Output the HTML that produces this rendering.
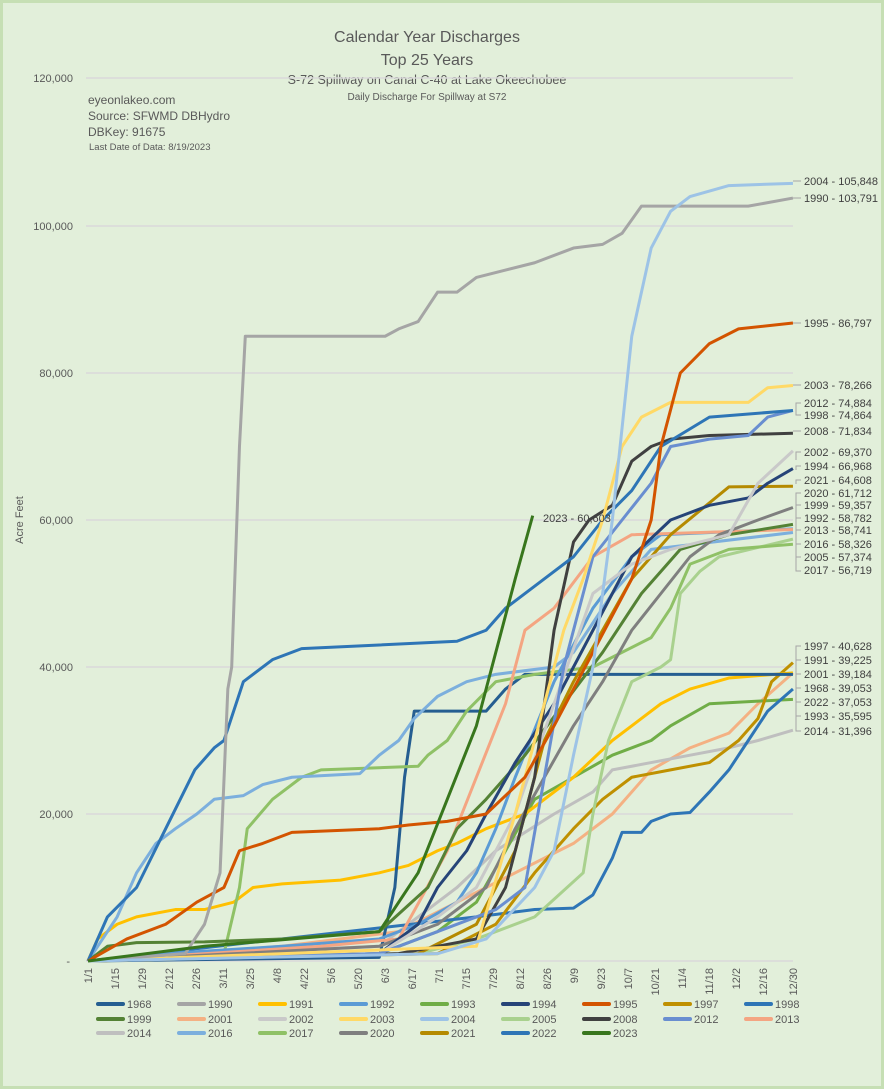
<!DOCTYPE html>
<html><head><meta charset="utf-8"><style>
html,body{margin:0;padding:0;background:#e2efda;}
svg{display:block;font-family:"Liberation Sans",sans-serif;}
</style></head><body>
<svg width="884" height="1089" viewBox="0 0 884 1089" xmlns="http://www.w3.org/2000/svg">
<rect x="0" y="0" width="884" height="1089" fill="#c6dfb4"/>
<rect x="3" y="3" width="878" height="1083" fill="#e2efda"/>
<g font-family="Liberation Sans, sans-serif" fill="#595959" text-anchor="middle">
<text x="427" y="42" font-size="16">Calendar Year Discharges</text>
<text x="427" y="65" font-size="16">Top 25 Years</text>
<text x="427" y="84" font-size="12.5">S-72 Spillway on Canal C-40 at Lake Okeechobee</text>
<text x="427" y="100" font-size="10">Daily Discharge For Spillway at S72</text>
</g>
<g fill="#595959" font-size="12">
<text x="88" y="104">eyeonlakeo.com</text>
<text x="88" y="120">Source: SFWMD DBHydro</text>
<text x="88" y="136">DBKey: 91675</text>
<text x="89" y="150" font-size="9.5">Last Date of Data: 8/19/2023</text>
</g>
<g stroke="#d9d9d9" stroke-width="1.5">
<line x1="86" y1="78" x2="793" y2="78"/><line x1="86" y1="226" x2="793" y2="226"/>
<line x1="86" y1="373" x2="793" y2="373"/><line x1="86" y1="520" x2="793" y2="520"/>
<line x1="86" y1="667" x2="793" y2="667"/><line x1="86" y1="814" x2="793" y2="814"/>
<line x1="86" y1="961" x2="793" y2="961"/>
</g>
<g fill="#595959" font-size="11" text-anchor="end">
<text x="73" y="82">120,000</text><text x="73" y="230">100,000</text>
<text x="73" y="377">80,000</text><text x="73" y="524">60,000</text>
<text x="73" y="671">40,000</text><text x="73" y="818">20,000</text>
<text x="70" y="965">-</text>
</g>
<text transform="translate(23 520) rotate(-90)" text-anchor="middle" font-size="11" fill="#595959">Acre Feet</text>
<g fill="#595959" font-size="11" text-anchor="end">
<text transform="translate(92 968) rotate(-90)">1/1</text>
<text transform="translate(119 968) rotate(-90)">1/15</text>
<text transform="translate(146 968) rotate(-90)">1/29</text>
<text transform="translate(173 968) rotate(-90)">2/12</text>
<text transform="translate(200 968) rotate(-90)">2/26</text>
<text transform="translate(227 968) rotate(-90)">3/11</text>
<text transform="translate(254 968) rotate(-90)">3/25</text>
<text transform="translate(281 968) rotate(-90)">4/8</text>
<text transform="translate(308 968) rotate(-90)">4/22</text>
<text transform="translate(335 968) rotate(-90)">5/6</text>
<text transform="translate(362 968) rotate(-90)">5/20</text>
<text transform="translate(389 968) rotate(-90)">6/3</text>
<text transform="translate(416 968) rotate(-90)">6/17</text>
<text transform="translate(443 968) rotate(-90)">7/1</text>
<text transform="translate(470 968) rotate(-90)">7/15</text>
<text transform="translate(497 968) rotate(-90)">7/29</text>
<text transform="translate(524 968) rotate(-90)">8/12</text>
<text transform="translate(551 968) rotate(-90)">8/26</text>
<text transform="translate(578 968) rotate(-90)">9/9</text>
<text transform="translate(605 968) rotate(-90)">9/23</text>
<text transform="translate(632 968) rotate(-90)">10/7</text>
<text transform="translate(659 968) rotate(-90)">10/21</text>
<text transform="translate(686 968) rotate(-90)">11/4</text>
<text transform="translate(713 968) rotate(-90)">11/18</text>
<text transform="translate(740 968) rotate(-90)">12/2</text>
<text transform="translate(767 968) rotate(-90)">12/16</text>
<text transform="translate(797 968) rotate(-90)">12/30</text>
</g>
<g transform="translate(88 961) scale(1.942 -7.35)" fill="none" stroke-width="3" stroke-linejoin="round">
<polyline vector-effect="non-scaling-stroke" stroke="#f4b183" points="0,0 100,2 160,4 190,8 220,12 250,16 270,20 290,26 310,29 330,31 345,35 363,39.2"/>
<polyline vector-effect="non-scaling-stroke" stroke="#bfbfbf" points="0,0 60,1 150,2 190,10 210,15 240,20 260,23 270,26 290,27 310,28 330,29 345,30 363,31.4"/>
<polyline vector-effect="non-scaling-stroke" stroke="#70ad47" points="0,0 150,1 180,4 200,8 215,15 230,22 250,25 270,28 290,30 300,32 320,35 363,35.6"/>
<polyline vector-effect="non-scaling-stroke" stroke="#2e75b6" points="0,0 200,6 230,7 250,7.2 260,9 270,14 275,17.5 285,17.5 290,19 300,20 310,20.2 320,23 330,26 340,30 350,34 363,37"/>
<polyline vector-effect="non-scaling-stroke" stroke="#bf9000" points="0,0 180,1 210,5 230,12 250,18 265,22 280,25 300,26 320,27 335,30 345,33 352,38 363,40.6"/>
<polyline vector-effect="non-scaling-stroke" stroke="#ffc000" points="0,0 5,3 15,5 25,6 45,7 60,7 75,8 85,10 100,10.5 130,11 150,12 165,13 180,15 190,16 205,18 225,20 250,25 270,30 285,33 295,35 310,37 330,38.5 363,39.2"/>
<polyline vector-effect="non-scaling-stroke" stroke="#255e91" points="0,0 150,0.5 158,10 163,25 168,34 205,34 215,37 225,39 363,39"/>
<polyline vector-effect="non-scaling-stroke" stroke="#a9d18e" points="0,0 170,1 200,3 230,6 255,12 260,20 268,30 280,38 295,40 300,41 305,50 315,53 325,55 363,57.4"/>
<polyline vector-effect="non-scaling-stroke" stroke="#8fc166" points="0,0 70,1 78,10 82,18 95,22 110,25 120,26 170,26.5 175,28 185,30 195,34 210,38 230,39 260,40 290,44 300,48 310,54 330,56 363,56.7"/>
<polyline vector-effect="non-scaling-stroke" stroke="#7cafdd" points="0,0 5,2 15,6 25,12 35,16 45,18 56,20 65,22 80,22.5 90,24 105,25 140,25.5 150,28 160,30 168,33 180,36 195,38 210,39 240,40 250,42 270,50 290,56 363,58.3"/>
<polyline vector-effect="non-scaling-stroke" stroke="#5b9bd5" points="0,0 40,1 100,2 150,3 170,5 190,8 200,12 210,18 220,25 240,38 260,48 280,55 295,58 363,58.8"/>
<polyline vector-effect="non-scaling-stroke" stroke="#f4a582" points="0,0 120,2 160,3 185,15 200,25 215,35 225,45 240,48 260,55 280,58 363,58.7"/>
<polyline vector-effect="non-scaling-stroke" stroke="#548235" points="0,0 10,2 25,2.5 60,2.6 100,3 150,4 175,10 190,18 205,22 225,28 245,35 265,42 285,50 305,56 330,58 363,59.4"/>
<polyline vector-effect="non-scaling-stroke" stroke="#7f7f7f" points="0,0 150,2 180,5 205,10 220,18 235,25 250,32 265,38 280,45 295,50 310,55 325,58 345,60 363,61.7"/>
<polyline vector-effect="non-scaling-stroke" stroke="#b58a00" points="0,0 170,1 200,5 220,15 235,30 250,38 265,45 280,52 300,58 330,64.5 363,64.6"/>
<polyline vector-effect="non-scaling-stroke" stroke="#264478" points="0,0 150,1 170,5 180,10 195,15 205,20 220,27 240,35 260,45 280,55 300,60 320,62 340,63 350,65 363,67"/>
<polyline vector-effect="non-scaling-stroke" stroke="#c9c9c9" points="0,0 150,1 180,6 200,10 220,20 240,35 260,50 280,54 300,56 330,58 345,65 363,69.4"/>
<polyline vector-effect="non-scaling-stroke" stroke="#404040" points="0,0 160,1 200,3 215,10 230,25 240,45 250,57 258,60 270,62 280,68 290,70 300,71 320,71.5 363,71.8"/>
<polyline vector-effect="non-scaling-stroke" stroke="#698ed0" points="0,0 150,1 210,7 225,10 235,25 245,40 260,55 275,60 290,65 300,70 320,71 340,71.5 350,74 363,74.9"/>
<polyline vector-effect="non-scaling-stroke" stroke="#2e75b6" points="0,0 10,6 25,10 40,18 55,26 65,29 70,30 80,38 95,41 110,42.5 150,43 190,43.5 205,45 215,48 235,52 250,55 265,60 280,64 295,70 320,74 363,74.9"/>
<polyline vector-effect="non-scaling-stroke" stroke="#ffd966" points="0,0 200,2 220,20 235,35 245,45 255,52 265,60 275,70 285,74 300,76 340,76 350,78 363,78.3"/>
<polyline vector-effect="non-scaling-stroke" stroke="#d35400" points="0,0 20,3 40,5 56,8 70,10 78,15 90,16 105,17.5 150,18 165,18.5 185,19 205,20 225,25 240,32 260,42 280,52 290,60 295,70 305,80 320,84 335,86 363,86.8"/>
<polyline vector-effect="non-scaling-stroke" stroke="#a5a5a5" points="0,0 50,1 60,5 68,12 72,37 74,40 78,70 81,85 153,85 160,86 170,87 180,91 190,91 200,93 215,94 230,95 250,97 265,97.5 275,99 285,102.7 340,102.7 363,103.8"/>
<polyline vector-effect="non-scaling-stroke" stroke="#9dc3e6" points="0,0 180,1 205,3 230,10 240,15 250,28 260,40 270,60 280,85 290,97 300,102 310,104 330,105.5 363,105.8"/>
<polyline vector-effect="non-scaling-stroke" stroke="#38761d" points="0,0 60,2 150,4 170,12 185,22 200,32 210,42 220,52 229,60.6"/>
</g>
<text x="543" y="522" font-size="11" fill="#404040">2023 - 60,603</text>
<g stroke="#a6a6a6" stroke-width="1" fill="none">
<line x1="793" y1="181" x2="801" y2="181"/><line x1="793" y1="198" x2="801" y2="198"/>
<line x1="793" y1="323" x2="801" y2="323"/><line x1="793" y1="385" x2="801" y2="385"/>
<polyline points="801,403 796,403 796,415 801,415"/><line x1="793" y1="431" x2="801" y2="431"/>
<polyline points="801,452 796,452 796,460"/><polyline points="801,466 796,466 796,470"/>
<polyline points="801,480 796,480 796,484"/><polyline points="801,493 796,493 796,571 801,571"/>
<line x1="796" y1="505" x2="801" y2="505"/><line x1="796" y1="518" x2="801" y2="518"/>
<line x1="796" y1="530" x2="801" y2="530"/><line x1="796" y1="544" x2="801" y2="544"/>
<line x1="796" y1="557" x2="801" y2="557"/>
<polyline points="801,646 796,646 796,731 801,731"/>
<line x1="796" y1="660" x2="801" y2="660"/><line x1="796" y1="674" x2="801" y2="674"/>
<line x1="796" y1="688" x2="801" y2="688"/><line x1="796" y1="702" x2="801" y2="702"/>
<line x1="796" y1="716" x2="801" y2="716"/>
</g>
<g fill="#404040" font-size="11">
<text x="804" y="185">2004 - 105,848</text><text x="804" y="202">1990 - 103,791</text>
<text x="804" y="327">1995 - 86,797</text><text x="804" y="389">2003 - 78,266</text>
<text x="804" y="407">2012 - 74,884</text><text x="804" y="419">1998 - 74,864</text>
<text x="804" y="435">2008 - 71,834</text><text x="804" y="456">2002 - 69,370</text>
<text x="804" y="470">1994 - 66,968</text><text x="804" y="484">2021 - 64,608</text>
<text x="804" y="497">2020 - 61,712</text><text x="804" y="509">1999 - 59,357</text>
<text x="804" y="522">1992 - 58,782</text><text x="804" y="534">2013 - 58,741</text>
<text x="804" y="548">2016 - 58,326</text><text x="804" y="561">2005 - 57,374</text>
<text x="804" y="574">2017 - 56,719</text>
<text x="804" y="650">1997 - 40,628</text><text x="804" y="664">1991 - 39,225</text>
<text x="804" y="678">2001 - 39,184</text><text x="804" y="692">1968 - 39,053</text>
<text x="804" y="706">2022 - 37,053</text><text x="804" y="720">1993 - 35,595</text>
<text x="804" y="735">2014 - 31,396</text>
</g>
<g stroke-width="4" stroke-linecap="round">
<line x1="98" y1="1004" x2="123" y2="1004" stroke="#255e91"/>
<line x1="179" y1="1004" x2="204" y2="1004" stroke="#a5a5a5"/>
<line x1="260" y1="1004" x2="285" y2="1004" stroke="#ffc000"/>
<line x1="341" y1="1004" x2="366" y2="1004" stroke="#5b9bd5"/>
<line x1="422" y1="1004" x2="447" y2="1004" stroke="#70ad47"/>
<line x1="503" y1="1004" x2="528" y2="1004" stroke="#264478"/>
<line x1="584" y1="1004" x2="609" y2="1004" stroke="#d35400"/>
<line x1="665" y1="1004" x2="690" y2="1004" stroke="#bf9000"/>
<line x1="746" y1="1004" x2="771" y2="1004" stroke="#2e75b6"/>
<line x1="98" y1="1019" x2="123" y2="1019" stroke="#548235"/>
<line x1="179" y1="1019" x2="204" y2="1019" stroke="#f4b183"/>
<line x1="260" y1="1019" x2="285" y2="1019" stroke="#c9c9c9"/>
<line x1="341" y1="1019" x2="366" y2="1019" stroke="#ffd966"/>
<line x1="422" y1="1019" x2="447" y2="1019" stroke="#9dc3e6"/>
<line x1="503" y1="1019" x2="528" y2="1019" stroke="#a9d18e"/>
<line x1="584" y1="1019" x2="609" y2="1019" stroke="#404040"/>
<line x1="665" y1="1019" x2="690" y2="1019" stroke="#698ed0"/>
<line x1="746" y1="1019" x2="771" y2="1019" stroke="#f4a582"/>
<line x1="98" y1="1033" x2="123" y2="1033" stroke="#bfbfbf"/>
<line x1="179" y1="1033" x2="204" y2="1033" stroke="#7cafdd"/>
<line x1="260" y1="1033" x2="285" y2="1033" stroke="#8fc166"/>
<line x1="341" y1="1033" x2="366" y2="1033" stroke="#7f7f7f"/>
<line x1="422" y1="1033" x2="447" y2="1033" stroke="#b58a00"/>
<line x1="503" y1="1033" x2="528" y2="1033" stroke="#2e75b6"/>
<line x1="584" y1="1033" x2="609" y2="1033" stroke="#38761d"/>
</g>
<g fill="#595959" font-size="11">
<text x="127" y="1008">1968</text><text x="208" y="1008">1990</text><text x="289" y="1008">1991</text>
<text x="370" y="1008">1992</text><text x="451" y="1008">1993</text><text x="532" y="1008">1994</text>
<text x="613" y="1008">1995</text><text x="694" y="1008">1997</text><text x="775" y="1008">1998</text>
<text x="127" y="1023">1999</text><text x="208" y="1023">2001</text><text x="289" y="1023">2002</text>
<text x="370" y="1023">2003</text><text x="451" y="1023">2004</text><text x="532" y="1023">2005</text>
<text x="613" y="1023">2008</text><text x="694" y="1023">2012</text><text x="775" y="1023">2013</text>
<text x="127" y="1037">2014</text><text x="208" y="1037">2016</text><text x="289" y="1037">2017</text>
<text x="370" y="1037">2020</text><text x="451" y="1037">2021</text><text x="532" y="1037">2022</text>
<text x="613" y="1037">2023</text>
</g>
</svg>
</body></html>
